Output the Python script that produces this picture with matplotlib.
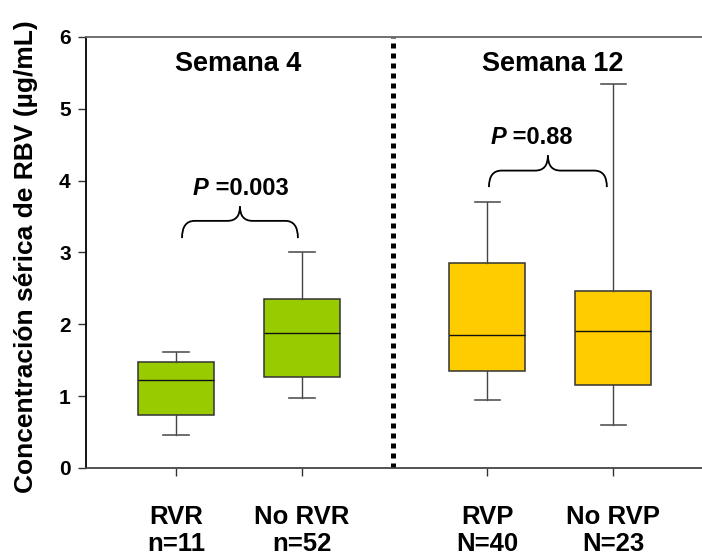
import numpy as np
import matplotlib.pyplot as plt
from matplotlib.path import Path
from matplotlib.patches import PathPatch

plt.rcParams['font.family'] = ['Liberation Sans', 'DejaVu Sans']
plt.rcParams['font.weight'] = 'bold'

groups = ['RVR\nn=11', 'No RVR\nn=52', 'RVP\nN=40', 'No RVP\nN=23']
whislo = [0.46, 0.97, 0.94, 0.60]
q1 = [0.74, 1.27, 1.355, 1.15]
med = [1.22, 1.875, 1.85, 1.91]
q3 = [1.48, 2.35, 2.85, 2.47]
whishi = [1.61, 3.00, 3.70, 5.34]
colors = ['#99CC00', '#99CC00', '#FFCC00', '#FFCC00']
weeks = ['Semana 4', 'Semana 12']
pvals = ['0.003', '0.88']

pos = [1, 2, 3.47, 4.47]


def brace(ax, x0, x1, yb, yh, yp, r=0.1):
    xc = (x0 + x1) / 2
    verts = [(x0, yb), (x0, yh), (x0 + r, yh), (xc - r, yh), (xc, yh), (xc, yp),
             (xc, yh), (xc + r, yh), (x1 - r, yh), (x1, yh), (x1, yb)]
    codes = [Path.MOVETO, Path.CURVE3, Path.CURVE3, Path.LINETO, Path.CURVE3, Path.CURVE3,
             Path.CURVE3, Path.CURVE3, Path.LINETO, Path.CURVE3, Path.CURVE3]
    ax.add_patch(PathPatch(Path(verts, codes), fill=False, lw=1.3, color='black'))


fig = plt.figure(figsize=(7.02, 5.56), dpi=100)
ax = fig.add_axes([0.1225, 0.1583, 0.8775, 0.7752])

stats = []
for i in range(4):
    stats.append({'med': med[i], 'q1': q1[i], 'q3': q3[i],
                  'whislo': whislo[i], 'whishi': whishi[i], 'fliers': []})

bp = ax.bxp(stats, positions=pos, widths=0.6, capwidths=0.2, patch_artist=True,
            showfliers=False,
            boxprops=dict(edgecolor='#333333', linewidth=1.1),
            medianprops=dict(color='#111111', linewidth=1.0),
            whiskerprops=dict(color='#444444', linewidth=1.0),
            capprops=dict(color='#555555', linewidth=1.2))
for patch, c in zip(bp['boxes'], colors):
    patch.set_facecolor(c)

ax.axvline(2.72, color='black', lw=3.6, linestyle=(0, (1, 1)), dash_capstyle='butt')

ax.set_xlim(0.286, 5.175)
ax.set_ylim(0, 6)
ax.set_xticks(pos)
ax.set_xticklabels(groups, fontsize=18.5, fontweight='bold', linespacing=1.15)
ax.set_yticks(range(7))
ax.set_yticklabels([str(v) for v in range(7)], fontsize=15, fontweight='bold')
ax.tick_params(axis='x', length=6, width=1, pad=21, color='#333333')
ax.tick_params(axis='y', length=6, width=1, pad=5, color='#333333')

ax.spines['right'].set_visible(False)
ax.spines['top'].set_color('#666666')
ax.spines['top'].set_linewidth(1.3)
ax.spines['left'].set_linewidth(1.3)
ax.spines['bottom'].set_linewidth(1.3)
ax.spines['bottom'].set_color('#444444')

ax.set_ylabel('Concentración sérica de RBV (µg/mL)', fontsize=19, fontweight='bold')
ax.yaxis.set_label_coords(-0.078, 0.49)

ax.text(1.49, 5.62, weeks[0], fontsize=19.5, fontweight='bold', ha='center', va='center')
ax.text(3.99, 5.62, weeks[1], fontsize=19.5, fontweight='bold', ha='center', va='center')

brace(ax, 1.048, 1.968, 3.20, 3.44, 3.64)
brace(ax, 3.484, 4.42, 3.91, 4.14, 4.35)

for xp, yp, pv in [(1.26, 3.89, pvals[0]), (3.62, 4.60, pvals[1])]:
    ax.text(xp, yp, 'P', fontsize=17, fontweight='bold', style='italic', ha='right', va='center')
    ax.text(xp, yp, ' =' + pv, fontsize=17, fontweight='bold', ha='left', va='center')

plt.savefig('out.png', dpi=100)
